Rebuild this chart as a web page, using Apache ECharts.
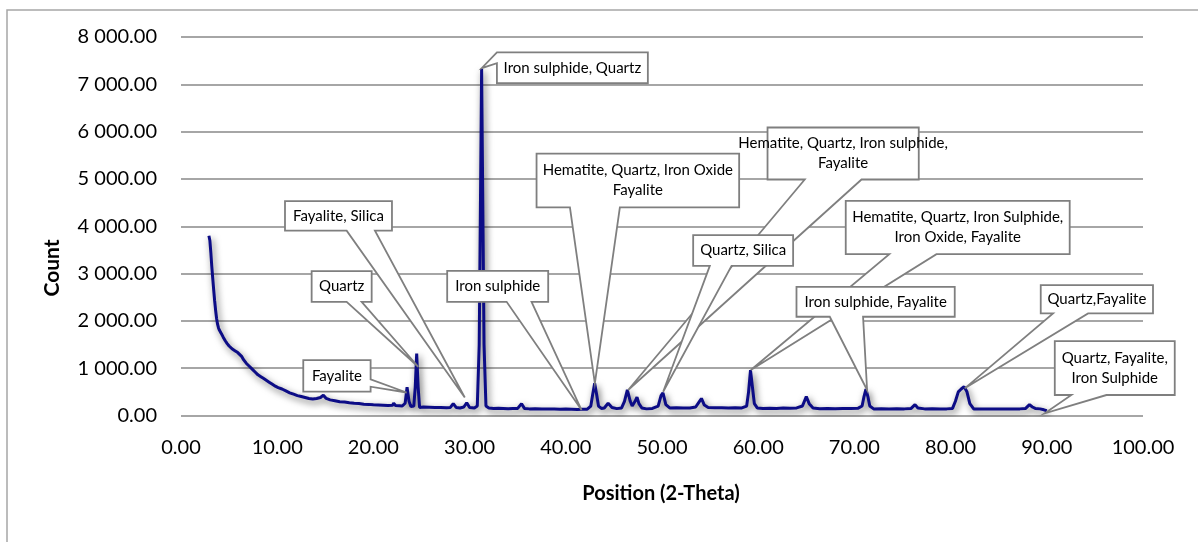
<!DOCTYPE html>
<html>
<head>
<meta charset="utf-8">
<script src="https://cdn.jsdelivr.net/npm/echarts@6/dist/echarts.min.js"></script>
<style>
  html, body { margin: 0; padding: 0; background: #fff; }
  #chart { width: 1198px; height: 542px; }
</style>
</head>
<body>
<div id="chart"></div>
<script>
// position (2-theta) and counts
let position = [
    2.9, 3.0, 3.1, 3.2, 3.3, 3.4, 3.5, 3.6, 3.7, 3.8, 3.9, 4.0, 4.2, 4.4, 4.6, 4.8,
    5.0, 5.3, 5.6, 5.9, 6.1, 6.3, 6.5, 6.8, 7.1, 7.4, 7.7, 8.0, 8.3, 8.6, 8.9, 9.2,
    9.5, 9.8, 10.1, 10.5, 10.9, 11.3, 11.7, 12.1, 12.5, 12.9, 13.3, 13.7, 14.1, 14.5,
    14.8, 15.1, 15.5, 16.0, 16.5, 17.0, 17.5, 18.0, 18.5, 19.0, 19.5, 20.0, 20.5, 21.0,
    21.5, 22.0, 22.1, 22.3, 22.7, 23.0, 23.3, 23.5, 23.7, 23.9, 24.2, 24.35, 24.5, 24.65,
    24.8, 25.2, 25.8, 26.4, 27.0, 27.6, 28.0, 28.3, 28.6, 29.0, 29.4, 29.7, 30.0, 30.5,
    30.8, 31.0, 31.15, 31.25, 31.35, 31.5, 31.7, 32.0, 32.5, 33.0, 33.5, 34.0, 34.5, 35.0,
    35.4, 35.7, 36.2, 36.8, 37.5, 38.2, 38.8, 39.4, 40.0, 40.6, 41.2, 41.7, 42.2, 42.6,
    42.8, 43.0, 43.2, 43.4, 43.7, 44.0, 44.4, 44.8, 45.3, 45.8, 46.1, 46.4, 46.7, 46.9,
    47.2, 47.4, 47.6, 47.9, 48.4, 49.0, 49.6, 49.9, 50.1, 50.4, 50.8, 51.5, 52.2, 52.9,
    53.5, 53.9, 54.1, 54.4, 54.8, 55.5, 56.2, 56.9, 57.6, 58.3, 58.8, 59.0, 59.2, 59.4,
    59.6, 59.9, 60.5, 61.2, 61.9, 62.6, 63.3, 64.0, 64.6, 65.0, 65.3, 65.7, 66.4, 67.2,
    68.0, 68.8, 69.6, 70.4, 70.8, 71.0, 71.2, 71.4, 71.6, 72.0, 72.8, 73.6, 74.4, 75.2,
    75.9, 76.3, 76.6, 77.3, 78.1, 78.9, 79.6, 80.2, 80.5, 80.8, 81.1, 81.4, 81.7, 82.0,
    82.4, 83.2, 84.0, 84.8, 85.6, 86.4, 87.2, 87.8, 88.2, 88.5, 88.8, 89.3, 89.7, 90.0
];
let count = [
    3800, 3700, 3450, 3150, 2900, 2650, 2420, 2220, 2050, 1930, 1850, 1800, 1730, 1650, 1580, 1520,
    1470, 1410, 1370, 1330, 1320, 1250, 1180, 1100, 1040, 980, 920, 860, 820, 780, 740, 700,
    660, 620, 590, 560, 520, 480, 450, 420, 400, 380, 360, 350, 360, 380,
    430, 360, 330, 310, 290, 285, 270, 260, 255, 240, 235, 225, 220, 215,
    210, 215, 260, 210, 205, 200, 260, 600, 300, 190, 200, 600, 1310, 600,
    170, 180, 175, 170, 170, 165, 170, 250, 170, 160, 180, 270, 170, 160,
    200, 1500, 5000, 7330, 5000, 1500, 200, 160, 150, 155, 150, 145, 150, 150,
    250, 150, 140, 145, 140, 140, 135, 130, 135, 130, 125, 130, 130, 200,
    450, 680, 450, 200, 150, 160, 260, 170, 145, 160, 300, 540, 300, 200,
    300, 390, 250, 160, 140, 150, 200, 420, 480, 230, 160, 165, 160, 160,
    180, 300, 360, 220, 170, 165, 165, 160, 165, 160, 200, 500, 960, 600,
    250, 160, 150, 155, 150, 160, 155, 160, 200, 400, 250, 160, 145, 150,
    145, 150, 150, 155, 200, 400, 560, 400, 200, 140, 145, 140, 145, 140,
    150, 230, 160, 140, 145, 140, 140, 150, 300, 500, 560, 610, 500, 250,
    140, 135, 140, 135, 140, 135, 140, 150, 230, 180, 150, 140, 120, 100
];

// phase labels and the peak each one points at
let calloutText = [
    'Iron sulphide, Quartz',
    'Fayalite, Silica',
    'Quartz',
    'Fayalite',
    'Iron sulphide',
    'Hematite, Quartz, Iron Oxide\nFayalite',
    'Hematite, Quartz, Iron sulphide,\nFayalite',
    'Quartz, Silica',
    'Hematite, Quartz, Iron Sulphide,\nIron Oxide, Fayalite',
    'Iron sulphide, Fayalite',
    'Quartz,Fayalite',
    'Quartz, Fayalite,\nIron Sulphide'
];
let calloutTipX = [31.25, 29.5, 24.66, 23.45, 41.64, 43.02, 46.48, 50.12, 59.23, 71.32, 81.47, 89.79];
let calloutTipY = [7340, 380, 1031, 486, 116, 680, 539, 503, 962, 539, 574, 46];

// box placement in axis units: [left, top, right, bottom]
let calloutBox = [
    [32.84, 7677, 48.53, 7022],
    [10.81, 4530, 21.93, 3907],
    [13.58, 3052, 19.82, 2403],
    [12.71, 1172, 19.71, 503],
    [27.67, 3058, 38.17, 2403],
    [36.96, 5537, 58.02, 4397],
    [60.97, 6087, 76.69, 4988],
    [53.24, 3812, 63.63, 3164],
    [69.10, 4536, 92.38, 3411],
    [63.98, 2720, 80.43, 2087],
    [89.37, 2756, 101.04, 2158],
    [90.83, 1573, 103.30, 433]
];
// where the pointer leaves the box
let calloutWedge = [
    ['left', 7677, 7445],
    ['bottom', 17.22, 20.16],
    ['bottom', 17.22, 18.78],
    ['right', 765, 608],
    ['bottom', 33.85, 36.44],
    ['bottom', 40.43, 45.62],
    ['bottom', 64.84, 70.74],
    ['bottom', 54.97, 57.23],
    ['bottom', 73.63, 78.53],
    ['bottom', 67.44, 70.90],
    ['bottom', 90.65, 94.29],
    ['bottom', 92.56, 96.20]
];

let baseFont = 'Lato, "Open Sans", sans-serif';

function fmtCount(v) {
    return v.toFixed(2).replace(/\B(?=(\d{3})+(?!\d))/g, ' ');
}

function renderCallout(params, api) {
    let i = params.dataIndex;
    let tip = api.coord([api.value(0), api.value(1)]);
    let b = calloutBox[i];
    let lt = api.coord([b[0], b[1]]);
    let rb = api.coord([b[2], b[3]]);
    let L = lt[0], T = lt[1], R = rb[0], B = rb[1];
    let w = calloutWedge[i];
    let pts;
    if (w[0] === 'bottom') {
        let a = api.coord([w[1], 0])[0];
        let c = api.coord([w[2], 0])[0];
        pts = [[L, T], [R, T], [R, B], [c, B], tip, [a, B], [L, B]];
    } else if (w[0] === 'left') {
        let a = api.coord([0, w[1]])[1];
        let c = api.coord([0, w[2]])[1];
        pts = [[L, T], [R, T], [R, B], [L, B], [L, c], tip, [L, a]];
    } else {
        let a = api.coord([0, w[1]])[1];
        let c = api.coord([0, w[2]])[1];
        pts = [[L, T], [R, T], [R, a], tip, [R, c], [R, B], [L, B]];
    }
    return {
        type: 'group',
        children: [
            {
                type: 'polygon',
                shape: { points: pts },
                style: { fill: '#ffffff', stroke: '#7f7f7f', lineWidth: 1.8 }
            },
            {
                type: 'text',
                x: (L + R) / 2,
                y: (T + B) / 2,
                style: {
                    text: calloutText[i],
                    fill: '#000000',
                    font: '15px ' + baseFont,
                    align: 'center',
                    verticalAlign: 'middle',
                    lineHeight: 20
                }
            }
        ]
    };
}

let chart = echarts.init(document.getElementById('chart'));

let option = {
    animation: false,
    backgroundColor: '#ffffff',
    textStyle: { fontFamily: baseFont },
    grid: { left: 181, right: 55, top: 37, bottom: 126.5 },
    graphic: [
        {
            type: 'rect',
            shape: { x: 7, y: 10, width: 1220, height: 560 },
            style: { fill: 'none', stroke: '#a6a6a6', lineWidth: 1.5 },
            silent: true
        },
        {
            type: 'text',
            x: 52,
            y: 268,
            rotation: Math.PI / 2,
            style: {
                text: 'Count',
                font: 'bold 21px ' + baseFont,
                fill: '#000',
                align: 'center',
                verticalAlign: 'middle'
            }
        },
        {
            type: 'text',
            x: 661,
            y: 494,
            style: {
                text: 'Position (2-Theta)',
                font: 'bold 20px ' + baseFont,
                fill: '#000',
                align: 'center',
                verticalAlign: 'middle'
            }
        }
    ],
    xAxis: {
        type: 'value',
        min: 0,
        max: 100,
        interval: 10,
        axisLine: { show: false },
        axisTick: { show: false },
        splitLine: { show: false },
        axisLabel: {
            fontSize: 20,
            color: '#000',
            margin: 22,
            formatter: function (v) { return v.toFixed(2); }
        }
    },
    yAxis: {
        type: 'value',
        min: 0,
        max: 8000,
        interval: 1000,
        axisLine: { show: false },
        axisTick: { show: false },
        splitLine: { lineStyle: { color: '#a6a6a6', width: 2 } },
        axisLabel: {
            fontSize: 20,
            color: '#000',
            margin: 24,
            formatter: fmtCount
        }
    },
    series: [
        {
            name: 'Count',
            type: 'line',
            showSymbol: false,
            data: position.map(function (x, i) { return [x, count[i]]; }),
            lineStyle: {
                color: '#0c0c86',
                width: 3,
                shadowColor: 'rgba(0,0,0,0.6)',
                shadowBlur: 7,
                shadowOffsetX: 2,
                shadowOffsetY: 3
            },
            itemStyle: { color: '#0c0c86' },
            z: 2
        },
        {
            name: 'Phases',
            type: 'custom',
            clip: false,
            renderItem: renderCallout,
            data: calloutTipX.map(function (x, i) { return [x, calloutTipY[i]]; }),
            z: 3
        }
    ]
};

chart.setOption(option);
</script>
</body>
</html>
